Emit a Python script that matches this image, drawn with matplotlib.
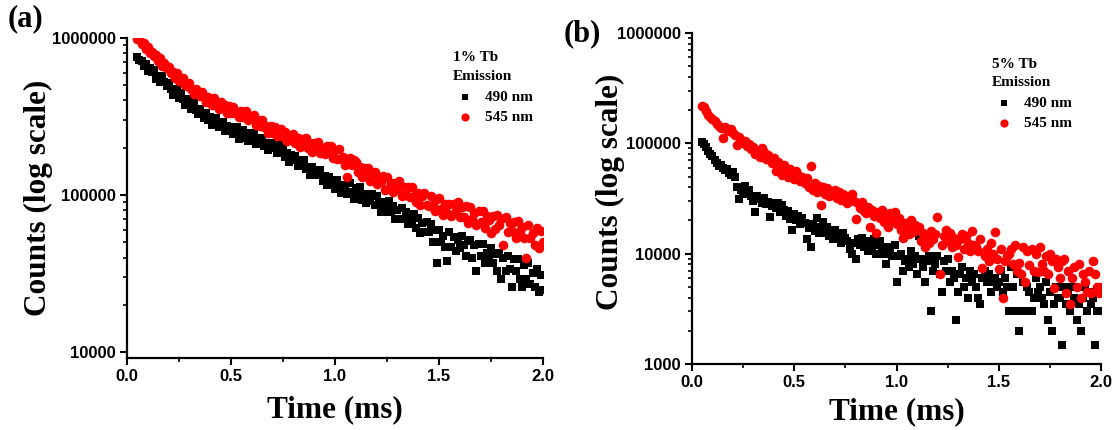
import numpy as np
import matplotlib
matplotlib.use("Agg")
import matplotlib.pyplot as plt
from matplotlib.ticker import MultipleLocator, LogLocator, NullFormatter

# time grid of the decay (ms)
time_ms = np.round(np.arange(0.05, 2.0001, 0.01), 2)

# (a) 1% Tb, counts in thousands
a_490_k = [762, 725, 718, 668, 680, 614, 644, 604, 625, 545,
           576, 523, 569, 523, 494, 520, 472, 436, 470, 470,
           417, 445, 406, 376, 406, 384, 353, 389, 349, 327,
           354, 332, 311, 335, 299, 315, 278, 298, 311, 273,
           277, 293, 254, 277, 261, 272, 246, 259, 270, 229,
           251, 258, 230, 221, 247, 227, 245, 212, 231, 219,
           231, 206, 214, 193, 215, 198, 211, 185, 210, 190,
           200, 175, 184, 163, 180, 167, 177, 153, 166, 152,
           167, 147, 150, 134, 151, 134, 144, 135, 145, 122,
           132, 116, 131, 119, 125, 110, 125, 113, 103, 116,
           113, 102, 119, 104, 95, 111, 100, 112, 93, 100,
           89, 102, 92, 102, 86, 99, 88, 78, 90, 86,
           78, 91, 79, 85, 70, 80, 70, 83, 70, 78,
           65, 75, 69, 76, 62, 71, 57, 66, 58, 67,
           58, 65, 50, 60, 37, 60, 50, 55, 47, 38,
           58, 47, 54, 44, 52, 46, 55, 48, 41, 51,
           52, 40, 48, 33, 49, 41, 49, 37, 43, 38,
           46, 37, 42, 33, 43, 29, 40, 33, 41, 34,
           26, 39, 33, 39, 29, 26, 36, 29, 37, 27,
           32, 26, 34, 24, 31, 25]
a_545_k = [985, 980, 915, 935, 855, 880, 797, 820, 771, 783,
           713, 744, 662, 690, 645, 657, 598, 606, 555, 602,
           530, 551, 559, 500, 497, 515, 470, 441, 473, 452,
           425, 456, 418, 393, 422, 406, 377, 415, 374, 354,
           391, 363, 373, 333, 367, 331, 365, 333, 339, 312,
           341, 314, 342, 300, 318, 305, 321, 280, 301, 276,
           302, 271, 275, 249, 276, 248, 270, 237, 253, 265,
           235, 251, 220, 236, 227, 245, 215, 231, 203, 228,
           212, 231, 198, 213, 187, 214, 194, 218, 185, 199,
           183, 205, 187, 205, 173, 193, 169, 195, 170, 175,
           155, 130, 171, 155, 168, 162, 141, 150, 130, 149,
           132, 148, 122, 134, 141, 117, 131, 121, 132, 108,
           130, 111, 119, 105, 120, 109, 122, 98, 112, 100,
           113, 97, 113, 99, 90, 103, 87, 98, 103, 87,
           85, 99, 87, 79, 94, 96, 82, 75, 88, 77,
           88, 73, 88, 79, 90, 72, 84, 72, 85, 66,
           84, 70, 77, 64, 79, 67, 79, 62, 74, 69,
           57, 74, 61, 75, 64, 70, 48, 72, 58, 66,
           59, 67, 53, 68, 59, 63, 53, 40, 64, 53,
           57, 48, 62, 46, 59, 50]

# (b) 5% Tb, counts
b_490 = [103000, 99000, 92000, 86000, 80000, 76000, 70000, 66000, 62000, 64000,
         60000, 57000, 59000, 54000, 52000, 55000, 50000, 40000, 31000, 38000,
         36000, 41000, 35000, 38000, 33000, 30000, 24000, 33000, 31000, 29000,
         32000, 28000, 29500, 21500, 27000, 28500, 26000, 29000, 24000, 27500,
         25000, 22000, 24500, 20500, 16500, 23000, 20000, 22000, 18500, 21000,
         19000, 13500, 17000, 11500, 18500, 16000, 21000, 15500, 17500, 19500,
         15500, 17500, 14500, 16000, 13500, 16500, 14000, 15000, 12500, 15500,
         14000, 13000, 11000, 10000, 12500, 9000, 13500, 12000, 14000, 11500,
         13000, 10500, 12500, 11000, 13500, 10000, 12000, 13000, 11000, 10000,
         8000, 11500, 10500, 9500, 12000, 5500, 9500, 10000, 7000, 8500,
         9000, 7500, 10500, 8000, 9500, 6500, 14500, 9000, 7500, 5500,
         8500, 9500, 3000, 7000, 8000, 9500, 6500, 4500, 8500, 7000,
         9000, 5500, 7000, 6000, 2500, 4500, 6500, 7500, 5000, 6000,
         4000, 7000, 5500, 6500, 5000, 4000, 3500, 6000, 7000, 5500,
         6500, 4500, 5500, 6000, 5000, 5500, 7000, 4500, 6000, 5000,
         3000, 7500, 5000, 3000, 6500, 2000, 3000, 5500, 3000, 5000,
         4500, 3000, 4000, 6000, 4500, 5000, 4000, 3500, 5500, 2500,
         4500, 2000, 3500, 5000, 4000, 4000, 1500, 5000, 3500, 4500,
         3000, 5000, 4000, 2500, 3500, 2000, 4000, 5000, 3000, 4500,
         3500, 4000, 1500, 3000, 5000, 3000]
b_545 = [218000, 212000, 196000, 180000, 172000, 166000, 158000, 150000, 145000, 138000,
         112000, 140000, 132000, 128000, 136000, 124000, 118000, 97000, 115000, 108000,
         100000, 104000, 95000, 98000, 88000, 92000, 80000, 86000, 75000, 90000,
         84000, 72000, 78000, 70000, 66000, 74000, 56000, 68000, 62000, 52000,
         64000, 60000, 50000, 58000, 55000, 47000, 56000, 52000, 46000, 50000,
         44000, 48000, 40000, 62000, 38000, 44000, 36000, 41000, 27500, 40000,
         35000, 39000, 33000, 37000, 34000, 38000, 32000, 36000, 30500, 34500,
         33000, 29000, 31500, 35000, 30000, 20500, 28500, 26000, 29500, 24500,
         23500, 26500, 17500, 25000, 22000, 15500, 24000, 21000, 25000, 19500,
         22500, 17500, 23500, 20000, 24000, 18500, 21000, 16500, 13800, 19000,
         17500, 15000, 20000, 15800, 18000, 16500, 17500, 13000, 15500, 11500,
         14500, 12500, 16000, 13500, 15000, 21500, 6500, 12000, 14500, 16500,
         13000, 15500, 11500, 14000, 12000, 9300, 13500, 15000, 11000, 14500,
         12500, 10500, 16000, 12000, 11500, 10500, 13500, 7400, 9500, 11000,
         8500, 12600, 10000, 15800, 9000, 7300, 11000, 4000, 8500, 9500,
         10000, 11000, 8000, 12000, 7000, 8300, 6500, 11500, 5500, 10500,
         7900, 11000, 7000, 10000, 6800, 11500, 8000, 7000, 9500, 6500,
         10000, 8500, 4900, 9000, 7500, 6000, 8500, 9000, 4400, 7000,
         3500, 6000, 7500, 5000, 8000, 4000, 6500, 5500, 4500, 7000,
         4400, 8500, 6500, 5000, 4400, 5000]

serif_bold = dict(family='Liberation Serif', weight='bold')


def style_axis(ax, ymin, yticks, xpad):
    ax.set_yscale('log')
    ax.set_xlim(0, 2.0)
    ax.set_ylim(ymin, 1e6)
    ax.spines['top'].set_visible(False)
    ax.spines['right'].set_visible(False)
    for s in ['left', 'bottom']:
        ax.spines[s].set_linewidth(1.6)
    ax.set_yticks(yticks, labels=[str(int(t)) for t in yticks])
    ax.yaxis.set_minor_locator(LogLocator(base=10, subs=np.arange(2, 10)))
    ax.yaxis.set_minor_formatter(NullFormatter())
    ax.xaxis.set_major_locator(MultipleLocator(0.5))
    ax.xaxis.set_minor_locator(MultipleLocator(0.25))
    ax.xaxis.set_major_formatter(lambda v, p: f'{v:.1f}')
    ax.tick_params(which='major', direction='out', length=5, width=1.5, pad=3)
    ax.tick_params(which='minor', direction='out', length=3, width=1.2)
    for lab in ax.get_xticklabels() + ax.get_yticklabels():
        lab.set_fontfamily('Liberation Sans')
        lab.set_fontweight('bold')
        lab.set_fontsize(12)
    ax.set_xlabel('Time (ms)', fontsize=22.5, labelpad=xpad, **serif_bold)
    ax.set_ylabel('Counts (log scale)', fontsize=22.5, **serif_bold)


fig = plt.figure(figsize=(11.2, 4.3), dpi=100)
ax1 = fig.add_axes([0.1134, 0.1674, 0.3714, 0.7442])
ax2 = fig.add_axes([0.6179, 0.1535, 0.3652, 0.7698])

ax1.scatter(time_ms, np.array(a_490_k) * 1000, marker='s', s=34, color='black',
            linewidths=0, label='490 nm')
ax1.scatter(time_ms, np.array(a_545_k) * 1000, marker='o', s=48, color='red',
            linewidths=0, label='545 nm')
ax2.scatter(time_ms, b_490, marker='s', s=34, color='black', linewidths=0, label='490 nm')
ax2.scatter(time_ms, b_545, marker='o', s=48, color='red', linewidths=0, label='545 nm')

style_axis(ax1, 9160, [1e4, 1e5, 1e6], 8)
style_axis(ax2, 1000, [1e3, 1e4, 1e5, 1e6], 5)
ax1.yaxis.set_label_coords(-0.178, 0.5)
ax2.yaxis.set_label_coords(-0.165, 0.52)

leg_font = dict(family='Liberation Serif', weight='bold', size=11)
for ax, title, anchor in [(ax1, '1% Tb\nEmission', (0.784, 0.958)),
                          (ax2, '5% Tb\nEmission', (0.733, 0.925))]:
    leg = ax.legend(title=title, loc='upper left', bbox_to_anchor=anchor, frameon=False,
                    alignment='left', prop=leg_font, title_fontproperties=leg_font,
                    handlelength=1.6, handletextpad=0.5, borderpad=0, borderaxespad=0,
                    labelspacing=0.45, markerscale=0.85)
    leg.get_title().set_linespacing(1.55)

fig.text(0.007, 0.957, '(a)', fontsize=22, va='center', ha='left', **serif_bold)
fig.text(0.503, 0.922, '(b)', fontsize=22, va='center', ha='left', **serif_bold)

fig.savefig('out.png', dpi=100)
